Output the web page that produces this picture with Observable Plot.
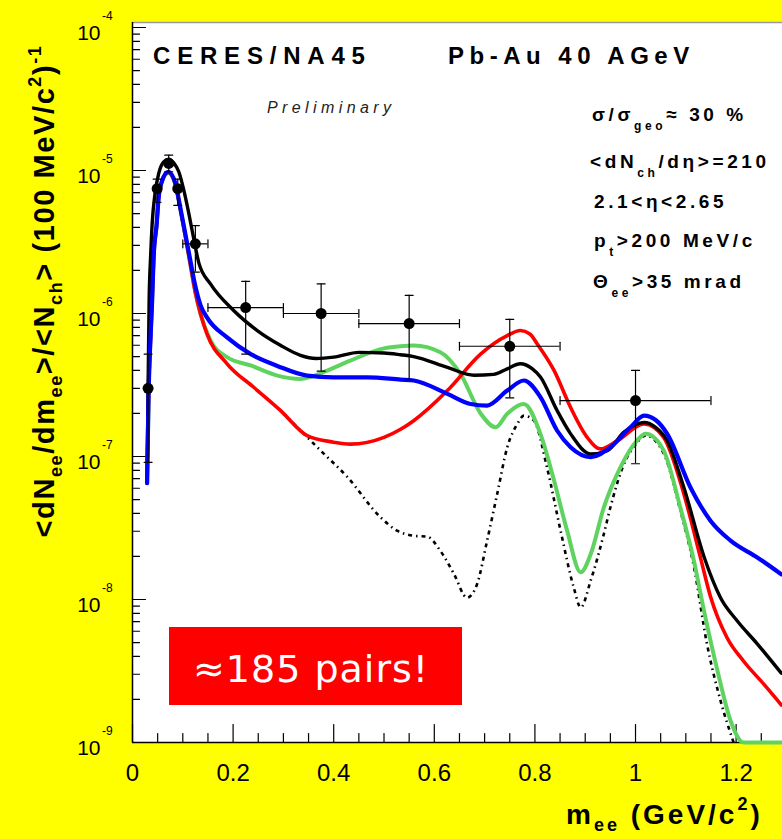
<!DOCTYPE html>
<html><head><meta charset="utf-8">
<script src="https://cdn.jsdelivr.net/npm/d3@7"></script>
<script src="https://cdn.jsdelivr.net/npm/@observablehq/plot@0.6"></script>
<style>
html,body{margin:0;padding:0;background:#ffff00;}
svg text{white-space:pre;}
</style></head><body>
<script>
// ---------- data points (CERES/NA45 Pb-Au 40 AGeV) ----------
const pointMass      = [0.031, 0.049, 0.072, 0.090, 0.125, 0.225, 0.375, 0.550, 0.750, 1.000];
const pointYield     = [3.0e-7, 7.46e-6, 1.12e-5, 7.46e-6, 3.07e-6, 1.10e-6, 1.00e-6, 8.5e-7, 5.9e-7, 2.46e-7];
const pointYieldLow  = [9.1e-8, 6.0e-6, 9.8e-6, 5.7e-6, 1.95e-6, 5.2e-7, 3.95e-7, 3.45e-7, 2.57e-7, 8.9e-8];
const pointYieldHigh = [5.2e-7, 8.7e-6, 1.28e-5, 8.7e-6, 4.12e-6, 1.68e-6, 1.61e-6, 1.34e-6, 9.1e-7, 4.0e-7];
const pointMassLow   = [null, null, null, null, 0.100, 0.150, 0.300, 0.450, 0.650, 0.850];
const pointMassHigh  = [null, null, null, null, 0.150, 0.300, 0.450, 0.650, 0.850, 1.150];

// ---------- model curves ----------
const blackMass  = [0.029,0.031,0.033,0.036,0.039,0.045,0.052,0.062,0.072,0.082,0.092,0.102,0.112,0.122,0.132,0.155,0.201,0.248,0.294,0.334,0.365,0.400,0.450,0.500,0.533,0.559,0.626,0.679,0.718,0.745,0.771,0.795,0.811,0.844,0.871,0.911,0.944,0.977,1.017,1.040,1.063,1.096,1.136,1.169,1.202,1.242,1.290];
const blackYield = [7e-8,3e-7,1.2e-6,2.5e-6,4.2e-6,7.0e-6,9.5e-6,1.15e-5,1.2e-5,1.13e-5,9.8e-6,7.3e-6,5.0e-6,3.3e-6,2.25e-6,1.61e-6,1.05e-6,7.6e-7,6.0e-7,5.1e-7,4.85e-7,4.95e-7,5.35e-7,5.3e-7,5.15e-7,5.0e-7,4.2e-7,3.7e-7,3.75e-7,4.1e-7,4.45e-7,4.1e-7,3.6e-7,2.1e-7,1.44e-7,1.04e-7,1.1e-7,1.48e-7,1.73e-7,1.6e-7,1.29e-7,6.1e-8,2.0e-8,1.03e-8,7.1e-9,4.9e-9,3.05e-9];

const blueMass  = [0.029,0.032,0.036,0.039,0.042,0.048,0.052,0.059,0.071,0.085,0.095,0.105,0.115,0.125,0.135,0.148,0.188,0.235,0.288,0.347,0.400,0.467,0.533,0.559,0.626,0.672,0.705,0.745,0.778,0.811,0.844,0.871,0.911,0.950,0.990,1.017,1.040,1.063,1.109,1.149,1.189,1.242,1.290];
const blueYield = [6.5e-8,2.8e-7,7e-7,1.23e-6,2.48e-6,4.2e-6,6.5e-6,8.5e-6,9.8e-6,8.2e-6,5.5e-6,3.6e-6,2.35e-6,1.55e-6,1.15e-6,9.4e-7,6.8e-7,5.2e-7,4.3e-7,3.68e-7,3.58e-7,3.58e-7,3.45e-7,3.4e-7,2.74e-7,2.33e-7,2.27e-7,2.89e-7,3.4e-7,2.6e-7,1.52e-7,1.16e-7,9.9e-8,1.16e-7,1.6e-7,1.93e-7,1.8e-7,1.44e-7,6.1e-8,3.56e-8,2.58e-8,1.97e-8,1.5e-8];

const redMass  = [0.029,0.032,0.036,0.039,0.042,0.048,0.052,0.059,0.071,0.085,0.095,0.105,0.115,0.125,0.135,0.148,0.188,0.241,0.294,0.347,0.400,0.433,0.500,0.533,0.559,0.626,0.692,0.745,0.771,0.790,0.805,0.838,0.871,0.904,0.930,0.964,1.017,1.056,1.096,1.129,1.149,1.182,1.215,1.255,1.290];
const redYield = [6.5e-8,2.8e-7,7e-7,1.23e-6,2.48e-6,4.2e-6,6.5e-6,8.5e-6,9.7e-6,8.1e-6,5.4e-6,3.5e-6,2.2e-6,1.4e-6,1.0e-6,7.2e-7,4.45e-7,3.05e-7,2.1e-7,1.4e-7,1.26e-7,1.22e-7,1.36e-7,1.55e-7,1.78e-7,2.89e-7,5.2e-7,7.0e-7,7.6e-7,7.2e-7,6.1e-7,4.0e-7,2.2e-7,1.36e-7,1.13e-7,1.29e-7,1.69e-7,1.36e-7,5.5e-8,1.97e-8,1.05e-8,5.4e-9,3.7e-9,2.56e-9,1.83e-9];

const greenMass  = [0.029,0.032,0.036,0.039,0.042,0.048,0.052,0.059,0.071,0.085,0.095,0.105,0.115,0.125,0.135,0.155,0.188,0.235,0.288,0.334,0.387,0.433,0.500,0.533,0.559,0.612,0.652,0.692,0.722,0.745,0.778,0.811,0.838,0.864,0.891,0.911,0.937,0.970,1.003,1.020,1.056,1.089,1.116,1.136,1.163,1.189,1.215,1.290];
const greenYield = [6.5e-8,2.8e-7,7e-7,1.23e-6,2.48e-6,4.2e-6,6.5e-6,8.5e-6,9.6e-6,8.0e-6,5.4e-6,3.5e-6,2.2e-6,1.4e-6,1.0e-6,6.5e-7,4.95e-7,4.33e-7,3.68e-7,3.49e-7,3.99e-7,4.69e-7,5.7e-7,5.9e-7,5.97e-7,5.36e-7,3.78e-7,2.0e-7,1.6e-7,1.99e-7,2.33e-7,1.44e-7,6.8e-8,3.03e-8,1.55e-8,2.08e-8,4.4e-8,8.4e-8,1.29e-7,1.44e-7,1.1e-7,4.4e-8,1.87e-8,8.4e-9,3.17e-9,1.42e-9,1e-9,1e-9];

const cocktailMass  = [0.300,0.334,0.374,0.427,0.493,0.526,0.559,0.586,0.612,0.639,0.665,0.685,0.705,0.725,0.745,0.765,0.778,0.798,0.824,0.851,0.877,0.891,0.911,0.937,0.950,0.975,1.003,1.020,1.056,1.089,1.116,1.142,1.169,1.195];
const cocktailYield = [2.0e-7,1.52e-7,1.1e-7,7.2e-8,3.76e-8,3.03e-8,2.79e-8,2.75e-8,2.19e-8,1.51e-8,1.03e-8,1.28e-8,2.58e-8,5.47e-8,1.16e-7,1.69e-7,1.93e-7,1.78e-7,8.4e-8,3.03e-8,1.22e-8,8.8e-9,1.36e-8,2.87e-8,4.4e-8,8.5e-8,1.25e-7,1.4e-7,1.05e-7,4.2e-8,1.7e-8,4.9e-9,1.96e-9,1.0e-9];

// ---------- axes ----------
const xMajorTicks = [0, 0.2, 0.4, 0.6, 0.8, 1.0, 1.2];
const xTickLabels = ["0", "0.2", "0.4", "0.6", "0.8", "1", "1.2"];
const xMinorTicks = [0.05,0.1,0.15,0.25,0.3,0.35,0.45,0.5,0.55,0.65,0.7,0.75,0.85,0.9,0.95,1.05,1.1,1.15,1.25];
const yMajorTicks = [1e-9, 1e-8, 1e-7, 1e-6, 1e-5, 1e-4];
const yTickExponents = ["-9", "-8", "-7", "-6", "-5", "-4"];
const yMinorTicks = [];
for (const decade of [1e-9, 1e-8, 1e-7, 1e-6, 1e-5]) for (let m = 2; m <= 9; m++) yMinorTicks.push(m * decade);

const X_MAX = 1.2922, Y_MIN = 1e-9, Y_MAX = 1.084e-4;

const toRows = (xs, ys) => xs.map((x, i) => ({x, y: ys[i]}));
const points = pointMass.map((m, i) => ({m, v: pointYield[i], lo: pointYieldLow[i], hi: pointYieldHigh[i], xlo: pointMassLow[i], xhi: pointMassHigh[i]}));
const xBars = points.filter(p => p.xlo != null);
const yCaps = points.flatMap(p => [{x: p.m, y: p.lo}, {x: p.m, y: p.hi}]);
const xCaps = xBars.flatMap(p => [{x: p.xlo, y: p.v}, {x: p.xhi, y: p.v}]);

const shapeUp = {draw(c, l) { c.moveTo(0, 0); c.lineTo(0, -l); }};
const shapeRight = {draw(c, l) { c.moveTo(0, 0); c.lineTo(l, 0); }};
const shapeHCap = {draw(c, l) { c.moveTo(-l / 2, 0); c.lineTo(l / 2, 0); }};
const shapeVCap = {draw(c, l) { c.moveTo(0, -l / 2); c.lineTo(0, l / 2); }};

const lineOpts = {x: "x", y: "y", curve: "monotone-x", strokeLinejoin: "round", strokeLinecap: "round"};

const plot = Plot.plot({
  width: 782, height: 839,
  marginLeft: 132, marginRight: 0, marginTop: 22, marginBottom: 97,
  x: {domain: [0, X_MAX], axis: null},
  y: {type: "log", domain: [Y_MIN, Y_MAX], axis: null},
  style: {background: "#ffff00", fontFamily: "'Liberation Sans', Arial, sans-serif", overflow: "visible"},
  marks: [
    Plot.frame({fill: "white", stroke: null}),
    Plot.ruleY([Y_MAX], {stroke: "#9a9a9a", strokeWidth: 1.5}),
    Plot.ruleX([0], {stroke: "black", strokeWidth: 1.5}),
    Plot.ruleY([Y_MIN], {stroke: "black", strokeWidth: 1.5}),
    Plot.vector(xMajorTicks, {x: d => d, y: Y_MIN, length: 18, shape: shapeUp, anchor: "start", stroke: "black", strokeWidth: 1.2}),
    Plot.vector(xMinorTicks, {x: d => d, y: Y_MIN, length: 9, shape: shapeUp, anchor: "start", stroke: "black", strokeWidth: 1.2}),
    Plot.vector(yMajorTicks, {x: 0, y: d => d, length: 13, shape: shapeRight, anchor: "start", stroke: "black", strokeWidth: 1.2}),
    Plot.vector(yMinorTicks, {x: 0, y: d => d, length: 7, shape: shapeRight, anchor: "start", stroke: "black", strokeWidth: 1.2}),
    Plot.text(xMajorTicks, {x: d => d, text: (d, i) => xTickLabels[i], frameAnchor: "bottom", dy: 38, fontSize: 24, fill: "black"}),
    Plot.text(yMajorTicks, {y: d => d, text: () => "10", frameAnchor: "left", textAnchor: "end", dx: -32, dy: 6, fontSize: 21, fill: "black"}),
    Plot.text(yMajorTicks, {y: d => d, text: (d, i) => yTickExponents[i], frameAnchor: "left", textAnchor: "start", dx: -30.5, dy: -11, fontSize: 12, fill: "black"}),
    // curves
    Plot.line(toRows(cocktailMass, cocktailYield), {...lineOpts, stroke: "black", strokeWidth: 2.6, strokeDasharray: "4,4,1.5,4", strokeLinecap: "butt"}),
    Plot.line(toRows(greenMass, greenYield), {...lineOpts, stroke: "#5fd35f", strokeWidth: 4}),
    Plot.line(toRows(redMass, redYield), {...lineOpts, stroke: "#ff0000", strokeWidth: 3.6}),
    Plot.line(toRows(blackMass, blackYield), {...lineOpts, stroke: "black", strokeWidth: 3.4}),
    Plot.line(toRows(blueMass, blueYield), {...lineOpts, stroke: "#0000ff", strokeWidth: 4.2}),
    // data
    Plot.ruleX(points, {x: "m", y1: "lo", y2: "hi", stroke: "black", strokeWidth: 1.2}),
    Plot.ruleY(xBars, {y: "v", x1: "xlo", x2: "xhi", stroke: "black", strokeWidth: 1.2}),
    Plot.vector(yCaps, {x: "x", y: "y", length: 8, shape: shapeHCap, anchor: "start", stroke: "black", strokeWidth: 1.2}),
    Plot.vector(xCaps, {x: "x", y: "y", length: 8, shape: shapeVCap, anchor: "start", stroke: "black", strokeWidth: 1.2}),
    Plot.dot(points, {x: "m", y: "v", r: 5.5, fill: "black", stroke: null})
  ]
});
document.body.appendChild(plot);

// ---------- annotations ----------
const svg = d3.select(plot);
function richText(opts, parts) {
  const {x = 0, y = 0, size, weight = "bold", ls = 0, fontStyle = "normal", fill = "black", anchor = "start",
         transform = null, family = "'Liberation Sans', Arial, sans-serif", subSize = size * 0.62, subShift = size * 0.42, supShift = size * 0.55} = opts;
  const t = svg.append("text").attr("x", x).attr("y", y)
    .attr("font-size", size).attr("font-weight", weight).attr("font-style", fontStyle)
    .attr("font-family", family).attr("fill", fill).attr("letter-spacing", ls).attr("text-anchor", anchor);
  if (transform) t.attr("transform", transform);
  let prev = 0;
  for (const p of parts) {
    const [str, kind] = typeof p === "string" ? [p, null] : p;
    const shift = kind === "sub" ? subShift : kind === "sup" ? -supShift : 0;
    const ts = t.append("tspan").text(str).attr("dy", shift - prev);
    if (kind) ts.attr("font-size", subSize);
    prev = shift;
  }
  return t;
}

richText({x: 153, y: 64, size: 24, ls: 6.8}, ["CERES/NA45"]);
richText({x: 448, y: 64, size: 24, ls: 5.5}, ["Pb-Au 40 AGeV"]);
richText({x: 267, y: 113, size: 16, weight: "normal", fontStyle: "italic", ls: 4.4, fill: "#222"}, ["Preliminary"]);

const infoOpts = {size: 19, ls: 3.6, subSize: 12, subShift: 9};
richText({...infoOpts, x: 592, y: 121}, ["σ/σ", ["geo", "sub"], "≈ 30 %"]);
richText({...infoOpts, x: 590, y: 168}, ["<dN", ["ch", "sub"], "/dη>=210"]);
richText({...infoOpts, x: 594, y: 208}, ["2.1<η<2.65"]);
richText({...infoOpts, x: 594, y: 247}, ["p", ["t", "sub"], ">200 MeV/c"]);
richText({...infoOpts, x: 593, y: 288}, ["Θ", ["ee", "sub"], ">35 mrad"]);

svg.append("rect").attr("x", 169).attr("y", 627).attr("width", 293).attr("height", 78).attr("fill", "#ff0000");
richText({x: 193, y: 682, size: 38, weight: "normal", ls: 1, fill: "white", family: "'DejaVu Sans', sans-serif"}, ["≈185 pairs!"]);

richText({x: 566, y: 824, size: 28, ls: 3, subSize: 18, subShift: 7, supShift: 14}, ["m", ["ee", "sub"], " (GeV/c", ["2", "sup"], ")"]);

richText({x: 0, y: 0, size: 29, ls: 1.6, anchor: "middle", subSize: 18, subShift: 8, supShift: 13, transform: "translate(54,291) rotate(-90)"},
  ["<dN", ["ee", "sub"], "/dm", ["ee", "sub"], ">/<N", ["ch", "sub"], "> (100 MeV/c", ["2", "sup"], ")", ["-1", "sup"]]);
</script>
</body></html>
